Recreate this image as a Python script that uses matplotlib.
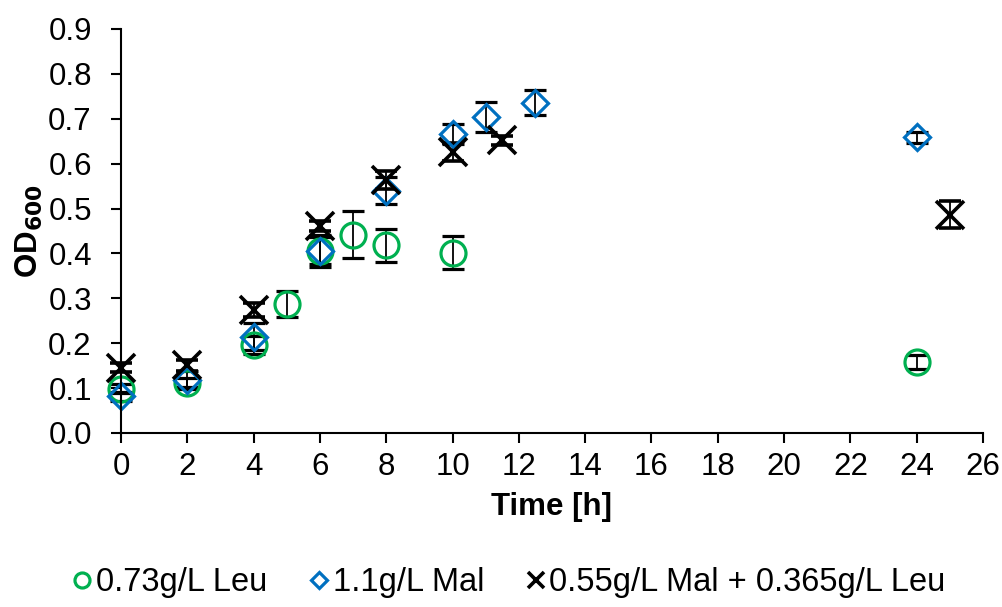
import numpy as np
import matplotlib.pyplot as plt

plt.rcParams['font.family'] = ['Liberation Sans', 'DejaVu Sans']

# 0.73 g/L Leu
leu_t = [0, 2, 4, 5, 6, 7, 8, 10, 24]
leu_od = [0.099, 0.112, 0.196, 0.287, 0.406, 0.442, 0.418, 0.402, 0.158]
leu_err = [0.010, 0.010, 0.020, 0.029, 0.030, 0.052, 0.037, 0.037, 0.015]

# 1.1 g/L Mal
mal_t = [0, 2, 4, 6, 8, 10, 11, 12.5, 24]
mal_od = [0.082, 0.118, 0.214, 0.405, 0.540, 0.666, 0.704, 0.736, 0.659]
mal_err = [0.010, 0.020, 0.030, 0.035, 0.030, 0.022, 0.034, 0.028, 0.012]

# 0.55 g/L Mal + 0.365 g/L Leu
mix_t = [0, 2, 4, 6, 8, 10, 11.5, 25]
mix_od = [0.145, 0.151, 0.274, 0.461, 0.563, 0.626, 0.652, 0.486]
mix_err = [0.010, 0.012, 0.015, 0.012, 0.020, 0.020, 0.010, 0.030]

fs = 22.5

fig = plt.figure(figsize=(10.03, 6.07), dpi=100)
ax = fig.add_axes([121 / 1003, 1 - 433 / 607, 862 / 1003, 404 / 607])

ms = 18
mew = 2.3
ekw = dict(ecolor='black', elinewidth=1.3, capsize=8, capthick=1.3, ls='none')

series = [
    (leu_t, leu_od, leu_err, dict(fmt='o', ms=ms, mfc='none', mec='#00B050', mew=mew), '0.73g/L Leu'),
    (mal_t, mal_od, mal_err, dict(fmt='D', ms=ms * 0.75, mfc='none', mec='#0070C0', mew=mew), '1.1g/L Mal'),
    (mix_t, mix_od, mix_err, dict(fmt='x', ms=20, mec='black', mew=2.6), '0.55g/L Mal + 0.365g/L Leu'),
]
handles = []
for t, od, err, mk, lab in series:
    c = ax.errorbar(t, od, yerr=err, label=lab, **mk, **ekw)
    for art in c.get_children():
        art.set_clip_on(False)
    handles.append(c[0])

ax.set_xlim(0, 26)
ax.set_ylim(0, 0.9)
ax.set_xticks(np.arange(0, 27, 2))
ax.set_yticks(np.arange(0, 0.91, 0.1))
ax.set_yticklabels([f'{v:.1f}' for v in np.arange(0, 0.91, 0.1)])
for s in ['top', 'right']:
    ax.spines[s].set_visible(False)
for s in ['left', 'bottom']:
    ax.spines[s].set_linewidth(1.5)
ax.tick_params(direction='out', length=7, width=1.5, labelsize=fs)
ax.tick_params(axis='y', pad=14)
ax.tick_params(axis='x', pad=7)
ax.set_xlabel('Time [h]', fontsize=fs, fontweight='bold', labelpad=7)
ax.set_ylabel('OD$_{\\mathbf{600}}$', fontsize=fs, fontweight='bold', labelpad=2)

labels = [s[4] for s in series]
fig.legend(handles, labels, loc='center', bbox_to_anchor=(0.508, 1 - 583 / 607), ncol=3,
           frameon=False, fontsize=23.5, markerscale=0.6, handlelength=0.55,
           handletextpad=0.15, columnspacing=1.3)

fig.savefig('out.png', dpi=100)
